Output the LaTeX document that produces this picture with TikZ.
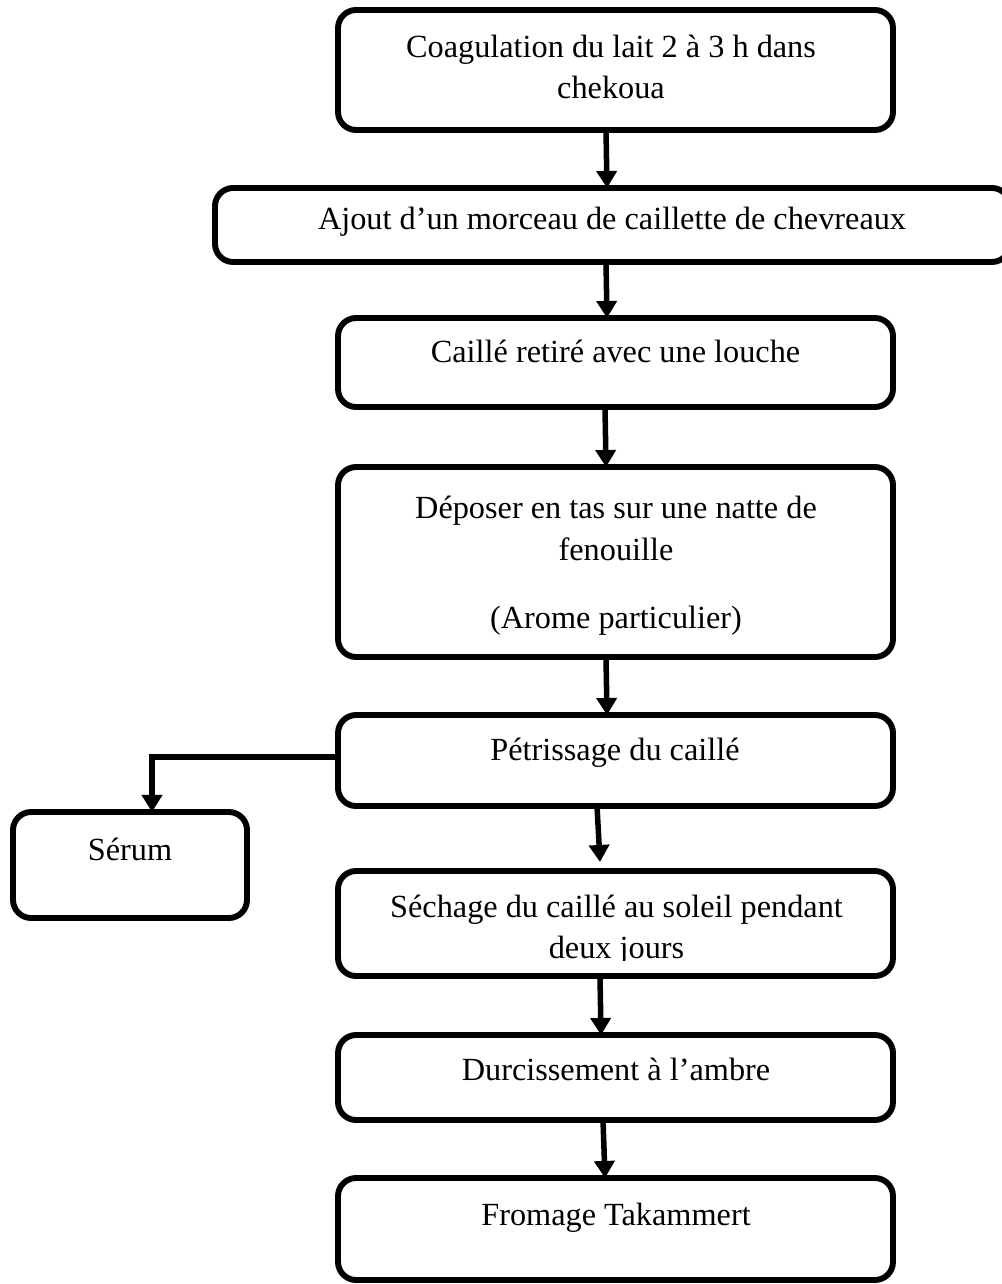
\documentclass[tikz,border=0pt]{standalone}
\usepackage{fontspec}
\setmainfont{Liberation Serif}
\usetikzlibrary{arrows.meta,calc}
\newcommand\mkbox[5]{\node[box, minimum width={(#4-#2)*0.381pt}, minimum height={(#5-#3)*0.381pt}] (#1) at ({(#2+#4)/2},{(#3+#5)/2}) {};}
\begin{document}
\begin{tikzpicture}[x=0.381pt,y=-0.381pt,
  box/.style={draw, line width=2.25pt, rounded corners=6.9pt, inner sep=0pt, outer sep=0pt, fill=white},
  lbl/.style={anchor=base, inner sep=0pt, font=\fontsize{12.3}{14}\selectfont},
  arr/.style={line width=2.1pt, -{Triangle[width=7.6pt,length=6.5pt]}}]
\useasboundingbox[fill=white] (0,0) rectangle (1002,1284);
% boxes
\mkbox{b1}{338}{10}{893}{130}
\mkbox{b2}{215}{188}{1010}{262}
\mkbox{b3}{338}{318}{893}{407}
\mkbox{b4}{338}{467}{893}{657}
\mkbox{b5}{338}{715}{893}{806}
\mkbox{serum}{13}{812}{247}{918}
\mkbox{b6}{338}{871}{893}{976}
\mkbox{b7}{338}{1035}{893}{1120}
\mkbox{b8}{338}{1178}{893}{1280}
% texts
\node[lbl] (t1a) at (611,58) {Coagulation du lait 2 à 3 h dans};
\node[lbl] (t1b) at (611,99) {chekoua};
\node[lbl] (t2) at (612,230) {Ajout d’un morceau de caillette de chevreaux};
\node[lbl] (t3) at (615.5,362) {Caillé retiré avec une louche};
\node[lbl] (t4a) at (616,518) {Déposer en tas sur une natte de};
\node[lbl] (t4b) at (616,560) {fenouille};
\node[lbl] (t4c) at (616,628) {(Arome particulier)};
\node[lbl] (t5) at (615,760) {Pétrissage du caillé};
\node[lbl] (ts) at (130,860) {Sérum};
\node[lbl] (t6a) at (616.5,917) {Séchage du caillé au soleil pendant};
\begin{scope}
\clip (338,871) rectangle (893,960);
\node[lbl] (t6b) at (616.5,958) {deux jours};
\end{scope}
\node[lbl] (t7) at (616,1080) {Durcissement à l’ambre};
\node[lbl] (t8) at (616,1225) {Fromage Takammert};
% connectors
\draw[arr] ($(b1.south)+(-9.5,0)$) -- ($(b2.north)+(-5.5,0)$);
\draw[arr] ($(b2.south)+(-6.5,0)$) -- ($(b3.north)+(-8.5,0)$);
\draw[arr] ($(b3.south)+(-10.5,0)$) -- ($(b4.north)+(-9.5,0)$);
\draw[arr] ($(b4.south)+(-9.5,0)$) -- ($(b5.north)+(-8.5,0)$);
\draw[arr] ($(b5.south)+(-18.5,0)$) -- ($(b6.north)+(-15.5,-9)$);
\draw[arr] ($(b6.south)+(-15.5,0)$) -- ($(b7.north)+(-14.5,0)$);
\draw[arr] ($(b7.south)+(-12.5,0)$) -- ($(b8.north)+(-10.5,0)$);
\draw[arr] ($(b5.west)+(0,-3.5)$) -| ($(serum.north)+(22,0)$);
\end{tikzpicture}
\end{document}
